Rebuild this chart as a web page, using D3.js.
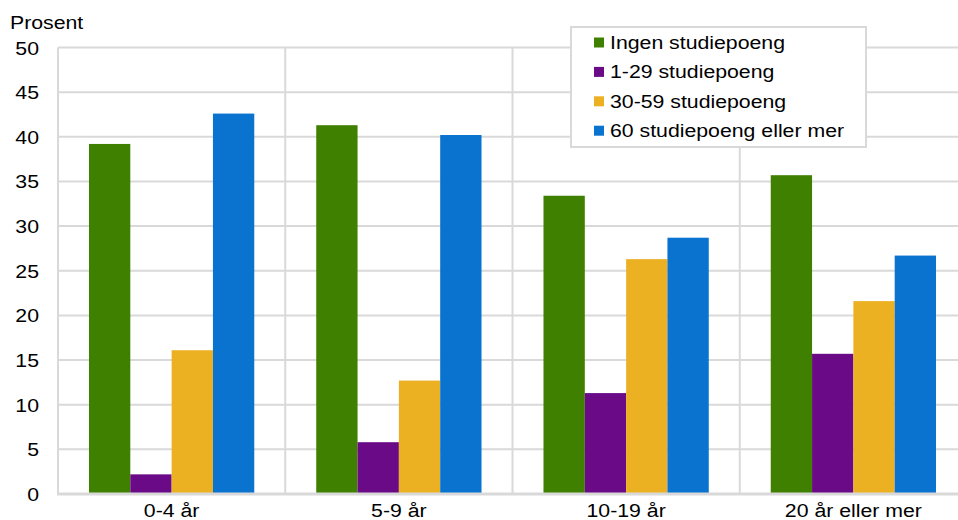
<!DOCTYPE html>
<html><head><meta charset="utf-8">
<script src="https://cdn.jsdelivr.net/npm/d3@7"></script>
<style>body{margin:0;background:#fff}svg{display:block}text{font-family:"Liberation Sans",Arial,sans-serif;fill:#000}</style>
</head><body><svg id="c" width="958" height="520"></svg>
<script>
const categories = ["0-4 år", "5-9 år", "10-19 år", "20 år eller mer"];
const seriesNames = ["Ingen studiepoeng", "1-29 studiepoeng", "30-59 studiepoeng", "60 studiepoeng eller mer"];
const ingen = [39.2, 41.3, 33.4, 35.7];
const s1_29 = [2.2, 5.8, 11.3, 15.7];
const s30_59 = [16.1, 12.7, 26.3, 21.6];
const s60 = [42.6, 40.2, 28.7, 26.7];
const yTicks = [0, 5, 10, 15, 20, 25, 30, 35, 40, 45, 50];
const colors = ["#3f8000", "#6a0a86", "#ebb122", "#0a73d0"];
const seriesValues = [ingen, s1_29, s30_59, s60];

const svg = d3.select("#c");
const L = 58, R = 967, T = 47.5, B = 494;
const FS = 19, SX = 1.12;
const x0 = d3.scaleBand().domain(categories).range([L, R]).paddingInner(0).paddingOuter(0);
const x1 = d3.scaleBand().domain(seriesNames).range([0, x0.bandwidth()]).paddingInner(0).paddingOuter(0.75);
const y = d3.scaleLinear().domain([0, 50]).range([B, T]);

function txt(g, x, yy, s, anchor) {
  return g.append("text").attr("transform", `translate(${x},${yy}) scale(${SX},1)`)
    .attr("text-anchor", anchor || "start").attr("font-size", FS).text(s);
}

// gridlines
const grid = svg.append("g");
grid.selectAll("line.h").data(yTicks).join("line")
  .attr("x1", L).attr("x2", R).attr("y1", d => y(d)).attr("y2", d => y(d))
  .attr("stroke", "#d9d9d9").attr("stroke-width", 2);
grid.selectAll("line.v").data(categories).join("line")
  .attr("x1", d => x0(d)).attr("x2", d => x0(d)).attr("y1", T).attr("y2", B)
  .attr("stroke", "#d9d9d9").attr("stroke-width", 2);
grid.append("line").attr("x1", R).attr("x2", R).attr("y1", T).attr("y2", B).attr("stroke", "#d9d9d9").attr("stroke-width", 2);

// bars
const data = [];
categories.forEach((c, i) => seriesNames.forEach((s, j) => data.push({c, s, v: seriesValues[j][i], col: colors[j]})));
svg.append("g").selectAll("rect").data(data).join("rect")
  .attr("x", d => x0(d.c) + x1(d.s)).attr("width", x1.bandwidth())
  .attr("y", d => y(d.v)).attr("height", d => B - y(d.v))
  .attr("fill", d => d.col);

// baseline
svg.append("line").attr("x1", L - 1).attr("x2", R).attr("y1", B).attr("y2", B).attr("stroke", "#d9d9d9").attr("stroke-width", 3);

// y labels
const yl = svg.append("g");
yTicks.forEach(t => txt(yl, 39, y(t) + 7, String(t), "end"));
txt(svg, 10, 29, "Prosent");

// x labels
categories.forEach(c => txt(svg, x0(c) + x0.bandwidth() / 2, 516.5, c, "middle"));

// legend
const lg = svg.append("g");
lg.append("rect").attr("x", 571).attr("y", 27).attr("width", 295).attr("height", 120)
  .attr("fill", "#fff").attr("stroke", "#d9d9d9").attr("stroke-width", 2);
seriesNames.forEach((s, i) => {
  const cy = 42 + i * 29.4;
  lg.append("rect").attr("x", 594).attr("y", cy - 4.5).attr("width", 10).attr("height", 10).attr("fill", colors[i]);
  txt(lg, 610, cy + 7, s);
});
</script></body></html>
